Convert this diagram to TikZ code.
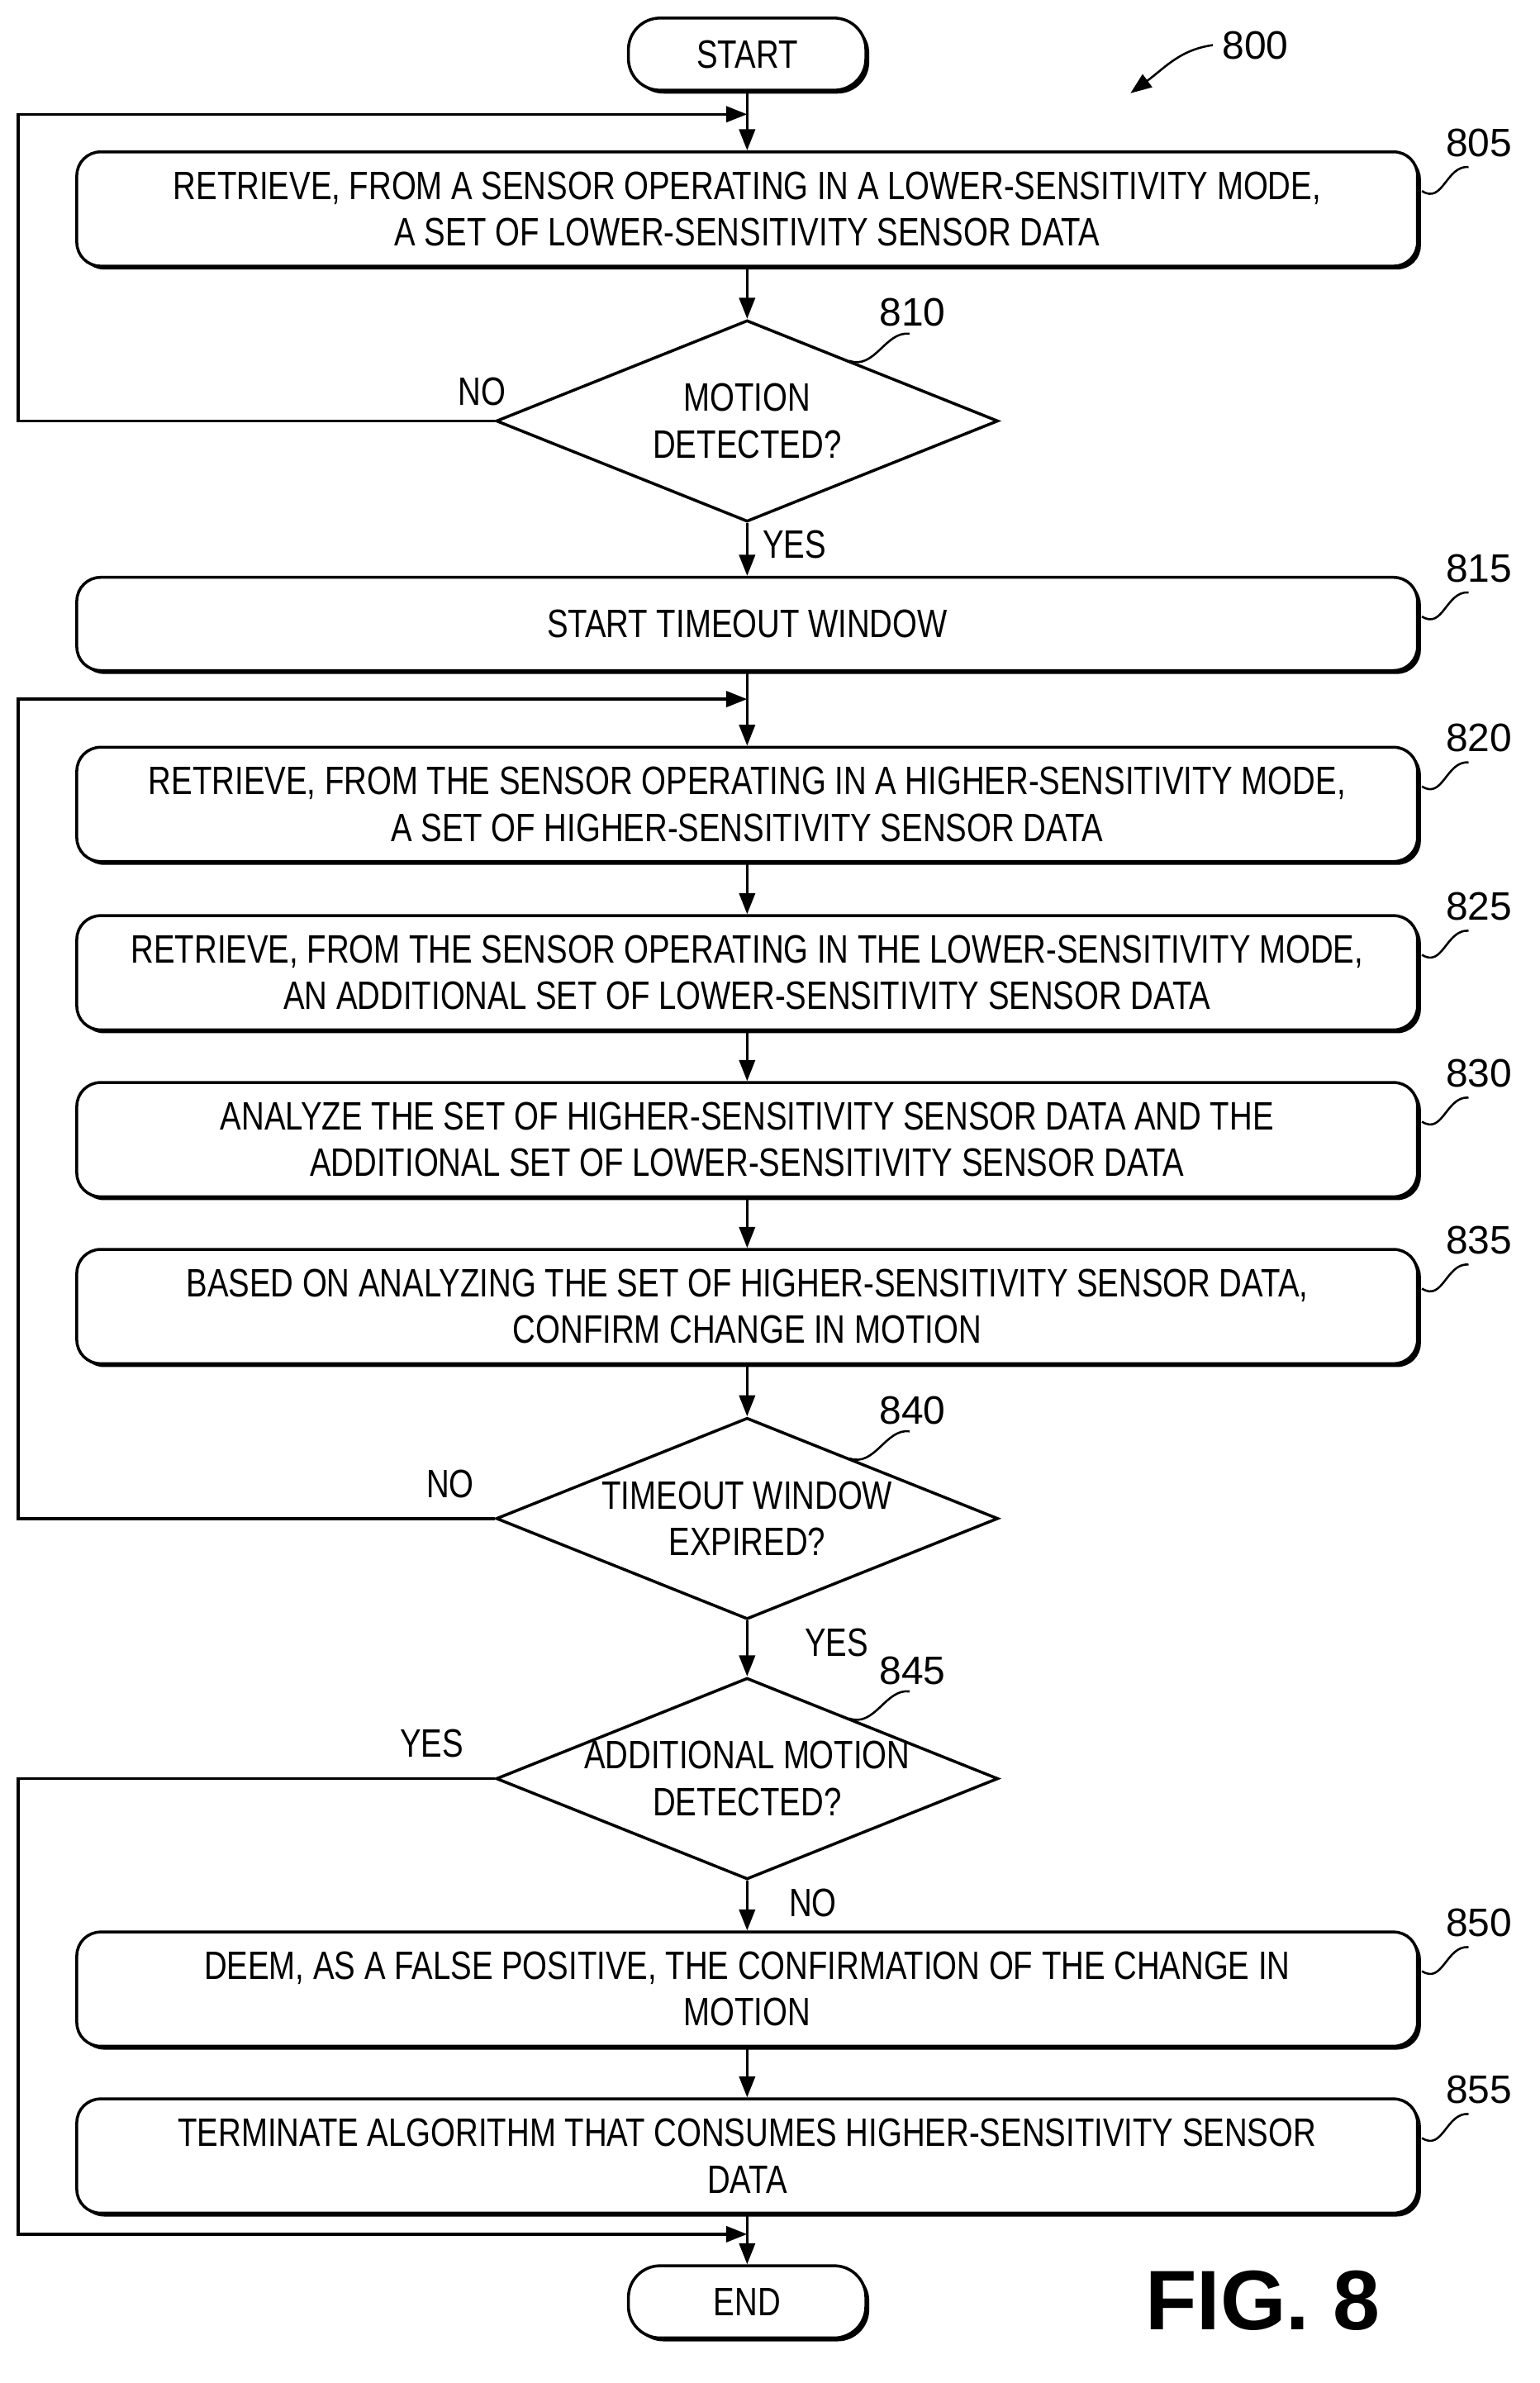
\documentclass[tikz,border=0pt]{standalone}
\usepackage{fontspec}
\setmainfont{Liberation Sans}
\newfontfamily\narrowfont[FakeStretch=0.8]{Liberation Sans}
\usetikzlibrary{shapes.geometric,arrows.meta,shadows}
\begin{document}
\begin{tikzpicture}[
  x=0.02cm, y=-0.02cm,
  every node/.style={font=\narrowfont\fontsize{15}{17.6}\selectfont},
  box/.style={
    draw, rounded corners=9pt, line width=1.1pt, fill=white,
    minimum width=17.84cm, minimum height=1.52cm, align=center,
    drop shadow={opacity=1, fill=black, shadow xshift=0.045cm, shadow yshift=-0.045cm}
  },
  box_short/.style={box, minimum height=1.24cm},
  term/.style={box, minimum width=3.16cm, minimum height=0.96cm, rounded corners=12pt},
  decision/.style={
    draw, diamond, line width=1.1pt, fill=white, inner sep=0pt,
    minimum width=6.68cm, minimum height=2.68cm
  },
  line/.style={draw, line width=1.1pt, -{Triangle[length=8pt,width=6pt]}},
  lead/.style={draw, line width=0.8pt},
  ref/.style={font=\fontsize{15}{17}\selectfont}
]%
\useasboundingbox (0,0) rectangle (1024,1585);
\node [term] (start) at (497,36) {START};
\node [box] (b805) at (497,139) {RETRIEVE, FROM A SENSOR OPERATING IN A LOWER-SENSITIVITY MODE,\\A SET OF LOWER-SENSITIVITY SENSOR DATA};
\node [decision, label={[align=center]center:MOTION\\DETECTED?}] (d810) at (497,280) {};
\node [box_short] (b815) at (497,415) {START TIMEOUT WINDOW};
\node [box] (b820) at (497,535) {RETRIEVE, FROM THE SENSOR OPERATING IN A HIGHER-SENSITIVITY MODE,\\A SET OF HIGHER-SENSITIVITY SENSOR DATA};
\node [box] (b825) at (497,647) {RETRIEVE, FROM THE SENSOR OPERATING IN THE LOWER-SENSITIVITY MODE,\\AN ADDITIONAL SET OF LOWER-SENSITIVITY SENSOR DATA};
\node [box] (b830) at (497,758) {ANALYZE THE SET OF HIGHER-SENSITIVITY SENSOR DATA AND THE\\ADDITIONAL SET OF LOWER-SENSITIVITY SENSOR DATA};
\node [box] (b835) at (497,869) {BASED ON ANALYZING THE SET OF HIGHER-SENSITIVITY SENSOR DATA,\\CONFIRM CHANGE IN MOTION};
\node [decision, label={[align=center]center:TIMEOUT WINDOW\\EXPIRED?}] (d840) at (497,1010) {};
\node [decision, label={[align=center]center:ADDITIONAL MOTION\\DETECTED?}] (d845) at (497,1183) {};
\node [box] (b850) at (497,1323) {DEEM, AS A FALSE POSITIVE, THE CONFIRMATION OF THE CHANGE IN\\MOTION};
\node [box] (b855) at (497,1434) {TERMINATE ALGORITHM THAT CONSUMES HIGHER-SENSITIVITY SENSOR\\DATA};
\node [term] (end) at (497,1531) {END};
% junctions
\coordinate (j805) at (497,76);
\coordinate (j820) at (497,465);
\coordinate (jend) at (497,1486);
% main flow
\draw [line] (start) -- (b805);
\draw [line] (b805) -- (d810);
\draw [line] (d810) -- node [right, xshift=2pt, pos=0.4] {YES} (b815);
\draw [line] (b815) -- (b820);
\draw [line] (b820) -- (b825);
\draw [line] (b825) -- (b830);
\draw [line] (b830) -- (b835);
\draw [line] (b835) -- (d840);
\draw [line] (d840) -- node [right, xshift=18pt, pos=0.4] {YES} (d845);
\draw [line] (d845) -- node [right, xshift=12pt, pos=0.45] {NO} (b850);
\draw [line] (b850) -- (b855);
\draw [line] (b855) -- (end);
% loops
\draw [line] (d810.west) node [above left, xshift=8pt, yshift=2pt] {NO} -- (12,280) |- (j805);
\draw [line] (d840.west) node [above left, xshift=-4pt, yshift=4pt] {NO} -- (12,1010) |- (j820);
\draw [line] (d845.west) node [above left, xshift=-8pt, yshift=4pt] {YES} -- (12,1183) |- (jend);
% reference numerals
\foreach \n in {805,815,820,825,830,835,850,855} {
  \draw [lead, shift={(b\n.north east)}] (2,27) .. controls (16,36) and (18,10) .. (33,11);
  \node [ref] at ([shift={(40,-5)}]b\n.north east) {\n};
}
\foreach \n in {810,840,845} {
  \draw [lead, shift={(d\n.center)}] (68,-40) .. controls (85,-34) and (92,-60) .. (108,-58);
  \node [ref] at ([shift={(110,-72)}]d\n.center) {\n};
}
\node [ref] (r800) at (835,30) {800};
\draw [lead, -{Triangle[length=8pt,width=6pt]}] (r800.west) .. controls (785,33) and (775,45) .. (752,62);
\node [font=\bfseries\fontsize{32}{36}\selectfont] (fig) at (840,1530) {FIG. 8};
\end{tikzpicture}
\end{document}
